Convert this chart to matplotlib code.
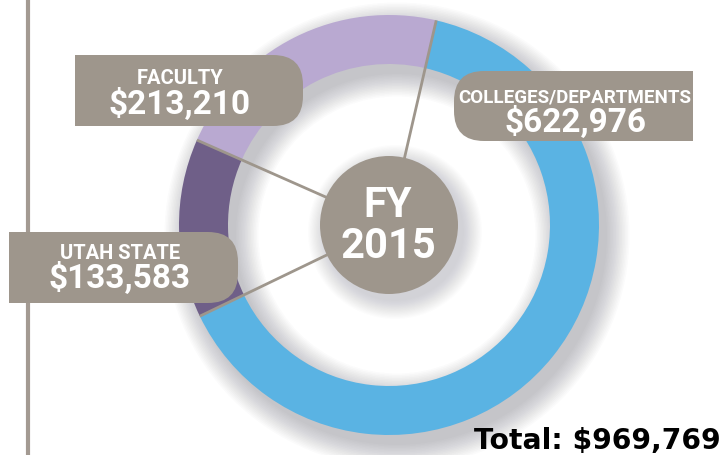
import numpy as np
import matplotlib.pyplot as plt
from matplotlib.patches import Circle, Wedge, FancyBboxPatch, Rectangle

categories = ['COLLEGES/DEPARTMENTS', 'UTAH STATE', 'FACULTY']
values = [622976, 133583, 213210]
value_labels = ['$622,976', '$133,583', '$213,210']
colors = ['#5ab3e3', '#6f5f88', '#b9a9d1']
year_label = 'FY\n2015'
total_label = 'Total: $969,769'

GRAY = '#9e968c'
NARROW = ['Roboto', 'DejaVu Sans']

fig = plt.figure(figsize=(7.26, 4.55), dpi=100)
ax = fig.add_axes([0, 0, 1, 1])

cx, cy = 389, 230
R, W = 210, 49
start = 77

# soft drop shadow of the ring and the centre disc
for k in range(16):
    ax.add_patch(Wedge((cx + 8, cy - 10), R + k * 1.5, 0, 360, width=W + k * 3.0,
                       facecolor='#5a5a6a', alpha=0.022, lw=0, zorder=1))
    ax.add_patch(Circle((cx + 6, cy - 7), 69 + k * 1.2, facecolor='#5a5a6a',
                        alpha=0.015, lw=0, zorder=1))

wedges, _ = ax.pie(values, colors=colors, startangle=start, counterclock=False,
                   center=(cx, cy), radius=R,
                   wedgeprops=dict(width=W, linewidth=0))
for w in wedges:
    w.set_zorder(2)

# separator lines at the segment boundaries
for w in wedges:
    a = np.deg2rad(w.theta2)
    ax.plot([cx, cx + R * np.cos(a)], [cy, cy + R * np.sin(a)],
            color=GRAY, lw=2, zorder=3, solid_capstyle='butt')

ax.add_patch(Circle((cx, cy), 69, facecolor=GRAY, lw=0, zorder=4))
ax.text(cx - 1, cy - 1, year_label, ha='center', va='center', color='white',
        fontsize=30, fontweight='bold', family=NARROW, linespacing=1.0, zorder=5)

# left rule
ax.plot([28, 28], [0, 455], color='#a39a92', lw=3, zorder=1)


def label_box(x0, x1, y0, y1, round_side):
    h = y1 - y0
    r = 30
    ax.add_patch(FancyBboxPatch((x0, y0), x1 - x0, h,
                                boxstyle=f'round,pad=0,rounding_size={r}',
                                facecolor=GRAY, lw=0, zorder=6))
    if round_side == 'right':
        ax.add_patch(Rectangle((x0, y0), (x1 - x0) / 2, h, facecolor=GRAY, lw=0, zorder=6))
    else:
        ax.add_patch(Rectangle((x0 + (x1 - x0) / 2, y0), (x1 - x0) / 2, h,
                               facecolor=GRAY, lw=0, zorder=6))


# box extents, text centre x and text baselines
boxes = [(454, 693, 314, 384, 'left', 575, 353, 323),
         (9, 238, 152, 223, 'right', 120, 196, 167),
         (75, 303, 329, 400, 'right', 180, 371, 341)]
for (x0, x1, y0, y1, side, tx, ty1, ty2), name, val in zip(boxes, categories, value_labels):
    label_box(x0, x1, y0, y1, side)
    ax.text(tx, ty1, name, ha='center', va='baseline', color='white',
            fontsize=13.5 if len(name) > 12 else 14.5, fontweight='bold',
            family=NARROW, zorder=7)
    ax.text(tx, ty2, val, ha='center', va='baseline', color='white',
            fontsize=24, fontweight='bold', family=NARROW, zorder=7)

ax.text(721, 14, total_label, ha='right', va='center', color='black',
        fontsize=20.3, fontweight='bold', family=['DejaVu Sans'], zorder=7)

ax.set_xlim(0, 726)
ax.set_ylim(0, 455)
ax.set_aspect('auto')
ax.axis('off')

fig.savefig('out.png', dpi=100)
